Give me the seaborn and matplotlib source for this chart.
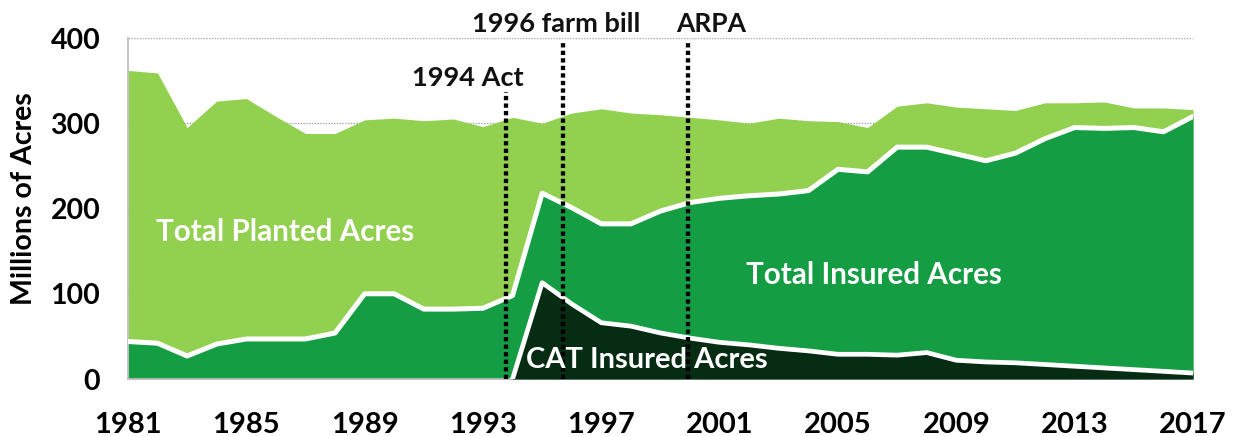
import numpy as np
import pandas as pd
import matplotlib
matplotlib.use("Agg")
import matplotlib.pyplot as plt
import seaborn as sns

# ---- data (millions of acres) ----
years = [1981, 1982, 1983, 1984, 1985, 1986, 1987, 1988, 1989, 1990,
         1991, 1992, 1993, 1994, 1995, 1996, 1997, 1998, 1999, 2000,
         2001, 2002, 2003, 2004, 2005, 2006, 2007, 2008, 2009, 2010,
         2011, 2012, 2013, 2014, 2015, 2016, 2017]
planted = [362, 359, 295, 326, 329, 308, 288, 288, 304, 306,
           303, 305, 296, 307, 300, 312, 317, 312, 310, 307,
           304, 300, 306, 303, 302, 295, 320, 324, 319, 317,
           315, 324, 324, 325, 318, 318, 316]
insured = [44, 42, 27, 41, 47, 47, 47, 54, 100, 100,
           82, 82, 83, 98, 218, 201, 182, 182, 197, 207,
           212, 215, 217, 221, 246, 243, 272, 272, 264, 256,
           265, 282, 295, 294, 295, 290, 308]
cat = [np.nan] * 13 + [0, 113, 88, 66, 62, 54, 48,
                       43, 40, 36, 33, 29, 29, 28, 31, 22, 20,
                       19, 17, 15, 13, 11, 9, 7]
xtick_labels = ["1981", "1985", "1989", "1993", "1997", "2001",
                "2005", "2009", "2013", "2017"]
ytick_values = [0, 100, 200, 300, 400]
event_names = ["1994 Act", "1996 farm bill", "ARPA"]
event_years = [1993.78, 1995.70, 1999.93]

LIGHT = "#92D050"
MID = "#159D44"
DARK = "#062C13"

sns.set_theme(style="white")
plt.rcParams["font.family"] = ["Lato", "DejaVu Sans"]

df = pd.DataFrame({"year": years, "planted": planted,
                   "insured": insured, "cat": cat})

fig = plt.figure(figsize=(12.34, 4.36), dpi=100)
ax = fig.add_axes([0.1037, 0.1307, 0.8631, 0.7821])

ax.fill_between(df["year"], 0, df["planted"], color=LIGHT, lw=0, zorder=1)
ax.fill_between(df["year"], 0, df["insured"], color=MID, lw=0, zorder=2)
sns.lineplot(data=df, x="year", y="insured", color="white", lw=3.6,
             ax=ax, zorder=3)
cdf = df[df["cat"].notna()]
ax.fill_between(cdf["year"], 0, cdf["cat"], color=DARK, lw=0, zorder=4)
sns.lineplot(data=cdf, x="year", y="cat", color="white", lw=3.4,
             ax=ax, zorder=5)

# event markers
tops = [337, 398, 398]
ax.vlines(event_years, 0, tops, colors="black", linestyles=(0, (1, 0.75)),
          lw=3.1, zorder=6)
ax.text(1992.49, 353, event_names[0], ha="center", va="center",
        fontsize=19.5, fontweight="bold", color="#111111", zorder=7)
ax.text(1995.47, 416, event_names[1], ha="center", va="center",
        fontsize=19.5, fontweight="bold", color="#111111", zorder=7,
        clip_on=False)
ax.text(2000.7, 416, event_names[2], ha="center", va="center",
        fontsize=19, fontweight="bold", color="#111111", zorder=7,
        clip_on=False)

# area labels
ax.text(1986.3, 172, "Total Planted Acres", ha="center", va="center",
        fontsize=21.3, fontweight="bold", color="white", zorder=7)
ax.text(2006.23, 122, "Total Insured Acres", ha="center", va="center",
        fontsize=21.3, fontweight="bold", color="white", zorder=7)
ax.text(1998.54, 22, "CAT Insured Acres", ha="center", va="center",
        fontsize=21, fontweight="bold", color="white", zorder=7)

# axes styling
ax.set_xlim(1981, 2017)
ax.set_ylim(0, 400)
ax.set_xticks([int(t) for t in xtick_labels])
ax.set_xticklabels(xtick_labels)
ax.set_yticks(ytick_values)
ax.set_yticklabels([str(v) for v in ytick_values])
ax.set_xlabel("")
ax.set_ylabel("Millions of Acres", fontsize=20.5, fontweight="bold",
              color="black")
ax.yaxis.label.set_va("center")
ax.yaxis.set_label_coords(-0.0975, 0.528)

ax.grid(axis="y", color="#A6A6A6", linestyle=(0, (1, 1)), lw=1)
ax.grid(axis="x", visible=False)
ax.set_axisbelow(True)

for s in ["top", "right"]:
    ax.spines[s].set_visible(False)
for s in ["left", "bottom"]:
    ax.spines[s].set_color("#BFBFBF")
    ax.spines[s].set_linewidth(1.3)

ax.tick_params(axis="x", direction="out", length=6, width=1.2,
               color="#BFBFBF", pad=18, labelsize=21, labelcolor="black")
ax.tick_params(axis="y", length=0, pad=20, labelsize=20.5, labelcolor="black")
for lab in ax.get_xticklabels() + ax.get_yticklabels():
    lab.set_fontweight("bold")

fig.savefig("out.png", dpi=100)
